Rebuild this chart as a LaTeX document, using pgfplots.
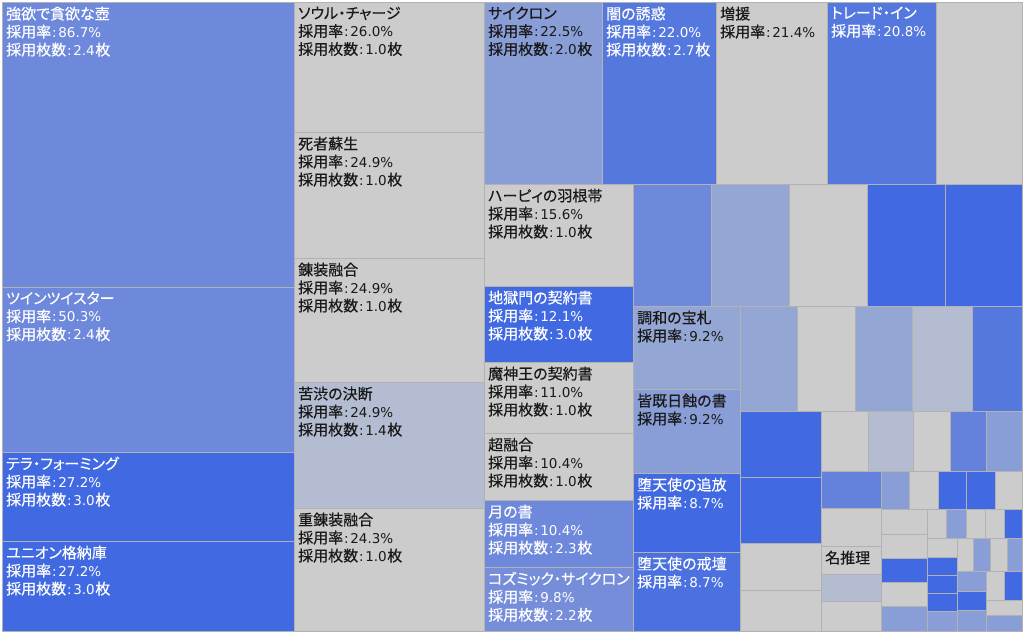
\documentclass[border=0pt]{standalone}
\usepackage{fontspec}
\setmainfont{Noto Sans CJK JP}[RawFeature=+palt,FakeBold=0.4]
\newfontfamily\lat{DejaVu Sans}
\usepackage{pgfplots}
\pgfplotsset{compat=1.18}
\definecolor{gr}{RGB}{204,204,204}
\definecolor{royal}{RGB}{65,105,225}
\definecolor{blueB}{RGB}{85,120,222}
\definecolor{blueBB}{RGB}{75,112,223}
\definecolor{blueC}{RGB}{110,136,219}
\definecolor{blueCC}{RGB}{118,142,218}
\definecolor{blueM}{RGB}{100,130,220}
\definecolor{blueD}{RGB}{137,157,215}
\definecolor{blueE}{RGB}{148,166,212}
\definecolor{grayblue}{RGB}{180,188,210}
\definecolor{bordc}{RGB}{178,178,178}
\definecolor{txtd}{RGB}{25,25,25}
\newcommand{\rt}[1]{採用率{\lat\fontsize{13.5}{18}\selectfont\kern0.8pt:\kern1.8pt#1\%}}
\newcommand{\ct}[1]{採用枚数{\lat\fontsize{13.5}{18}\selectfont\kern0.8pt:\kern1.8pt#1\kern0.5pt}枚}
\newcommand{\cell}[5]{\addplot[fill=#5,draw=bordc,line width=0.8pt] coordinates {(#1,#2) (#3,#2) (#3,#4) (#1,#4)} -- cycle;}
\newcommand{\lab}[4]{\node[anchor=north west,inner sep=0pt,align=left,text=#3,font={\fontsize{15}{18}\selectfont}] at (axis cs:#1+4,#2+4.5) {#4};}
\begin{document}
\begin{tikzpicture}
\begin{axis}[scale only axis,width=1024pt,height=633pt,xmin=0,xmax=1024,ymin=0,ymax=633,y dir=reverse,hide axis,clip=false]
\addplot[fill=white,draw=none] coordinates {(0,0) (1024,0) (1024,633) (0,633)} -- cycle;
% column 1
\cell{2}{2}{294}{287}{blueC}
\cell{2}{287}{294}{452}{blueC}
\cell{2}{452}{294}{541}{royal}
\cell{2}{541}{294}{631}{royal}
% column 2
\cell{294}{2}{484}{132}{gr}
\cell{294}{132}{484}{258}{gr}
\cell{294}{258}{484}{382}{gr}
\cell{294}{382}{484}{508}{grayblue}
\cell{294}{508}{484}{631}{gr}
% top row
\cell{484}{2}{602}{184}{blueD}
\cell{602}{2}{716}{184}{blueB}
\cell{716}{2}{827}{184}{gr}
\cell{827}{2}{936}{184}{blueB}
\cell{936}{2}{1022}{184}{gr}
% column 3
\cell{484}{184}{633}{286}{gr}
\cell{484}{286}{633}{362}{royal}
\cell{484}{362}{633}{433}{gr}
\cell{484}{433}{633}{500}{gr}
\cell{484}{500}{633}{567}{blueC}
\cell{484}{567}{633}{631}{blueCC}
% row 184-306
\cell{633}{184}{711}{306}{blueC}
\cell{711}{184}{789}{306}{blueE}
\cell{789}{184}{867}{306}{gr}
\cell{867}{184}{945}{306}{royal}
\cell{945}{184}{1022}{306}{royal}
% column 633-740
\cell{633}{306}{740}{389}{blueE}
\cell{633}{389}{740}{473}{blueD}
\cell{633}{473}{740}{552}{royal}
\cell{633}{552}{740}{631}{blueBB}
% row 306-411
\cell{740}{306}{797}{411}{blueE}
\cell{797}{306}{855}{411}{gr}
\cell{855}{306}{912}{411}{blueE}
\cell{912}{306}{972}{411}{grayblue}
\cell{972}{306}{1022}{411}{blueB}
% column 740-821
\cell{740}{411}{821}{477}{royal}
\cell{740}{477}{821}{543}{royal}
\cell{740}{543}{821}{590}{gr}
\cell{740}{590}{821}{631}{gr}
% row 411-471
\cell{821}{411}{868}{471}{gr}
\cell{868}{411}{913}{471}{grayblue}
\cell{913}{411}{950}{471}{gr}
\cell{950}{411}{986}{471}{blueM}
\cell{986}{411}{1022}{471}{blueD}
% column 821-881
\cell{821}{471}{881}{508}{blueM}
\cell{821}{508}{881}{546}{gr}
\cell{821}{546}{881}{574}{gr}
\cell{821}{574}{881}{601}{grayblue}
\cell{821}{601}{881}{631}{gr}
% row 471-509
\cell{881}{471}{909}{509}{blueD}
\cell{909}{471}{938}{509}{gr}
\cell{938}{471}{966}{509}{royal}
\cell{966}{471}{995}{509}{royal}
\cell{995}{471}{1022}{509}{gr}
% column 881-927
\cell{881}{509}{927}{534}{gr}
\cell{881}{534}{927}{558}{gr}
\cell{881}{558}{927}{582}{royal}
\cell{881}{582}{927}{606}{gr}
\cell{881}{606}{927}{631}{blueD}
% row 509-538
\cell{927}{509}{946}{538}{gr}
\cell{946}{509}{966}{538}{blueD}
\cell{966}{509}{985}{538}{gr}
\cell{985}{509}{1004}{538}{gr}
\cell{1004}{509}{1022}{538}{royal}
% column 927-957
\cell{927}{538}{957}{557}{gr}
\cell{927}{557}{957}{575}{royal}
\cell{927}{575}{957}{593}{royal}
\cell{927}{593}{957}{611}{royal}
\cell{927}{611}{957}{631}{blueD}
% row 538-571
\cell{957}{538}{973}{571}{gr}
\cell{973}{538}{990}{571}{blueD}
\cell{990}{538}{1007}{571}{gr}
\cell{1007}{538}{1022}{571}{blueD}
% bottom right
\cell{957}{571}{986}{591}{blueD}
\cell{957}{591}{986}{610}{royal}
\cell{957}{610}{986}{631}{blueD}
\cell{986}{571}{1004}{600}{gr}
\cell{1004}{571}{1022}{600}{royal}
\cell{986}{600}{1022}{615}{gr}
\cell{986}{615}{1022}{631}{blueD}
% labels
\lab{2}{2}{white}{強欲で貪欲な壺\\\rt{86.7}\\\ct{2.4}}
\lab{2}{287}{white}{ツインツイスター\\\rt{50.3}\\\ct{2.4}}
\lab{2}{452}{white}{テラ・フォーミング\\\rt{27.2}\\\ct{3.0}}
\lab{2}{541}{white}{ユニオン格納庫\\\rt{27.2}\\\ct{3.0}}
\lab{294}{2}{txtd}{ソウル・チャージ\\\rt{26.0}\\\ct{1.0}}
\lab{294}{132}{txtd}{死者蘇生\\\rt{24.9}\\\ct{1.0}}
\lab{294}{258}{txtd}{錬装融合\\\rt{24.9}\\\ct{1.0}}
\lab{294}{382}{txtd}{苦渋の決断\\\rt{24.9}\\\ct{1.4}}
\lab{294}{508}{txtd}{重錬装融合\\\rt{24.3}\\\ct{1.0}}
\lab{484}{2}{txtd}{サイクロン\\\rt{22.5}\\\ct{2.0}}
\lab{602}{2}{white}{闇の誘惑\\\rt{22.0}\\\ct{2.7}}
\lab{716}{2}{txtd}{増援\\\rt{21.4}}
\lab{827}{2}{white}{トレード・イン\\\rt{20.8}}
\lab{484}{184}{txtd}{ハーピィの羽根帯\\\rt{15.6}\\\ct{1.0}}
\lab{484}{286}{white}{地獄門の契約書\\\rt{12.1}\\\ct{3.0}}
\lab{484}{362}{txtd}{魔神王の契約書\\\rt{11.0}\\\ct{1.0}}
\lab{484}{433}{txtd}{超融合\\\rt{10.4}\\\ct{1.0}}
\lab{484}{500}{white}{月の書\\\rt{10.4}\\\ct{2.3}}
\lab{484}{567}{white}{コズミック・サイクロン\\\rt{9.8}\\\ct{2.2}}
\lab{633}{306}{txtd}{調和の宝札\\\rt{9.2}}
\lab{633}{389}{txtd}{皆既日蝕の書\\\rt{9.2}}
\lab{633}{473}{white}{堕天使の追放\\\rt{8.7}}
\lab{633}{552}{white}{堕天使の戒壇\\\rt{8.7}}
\lab{821}{546}{txtd}{名推理}
\end{axis}
\end{tikzpicture}
\end{document}
